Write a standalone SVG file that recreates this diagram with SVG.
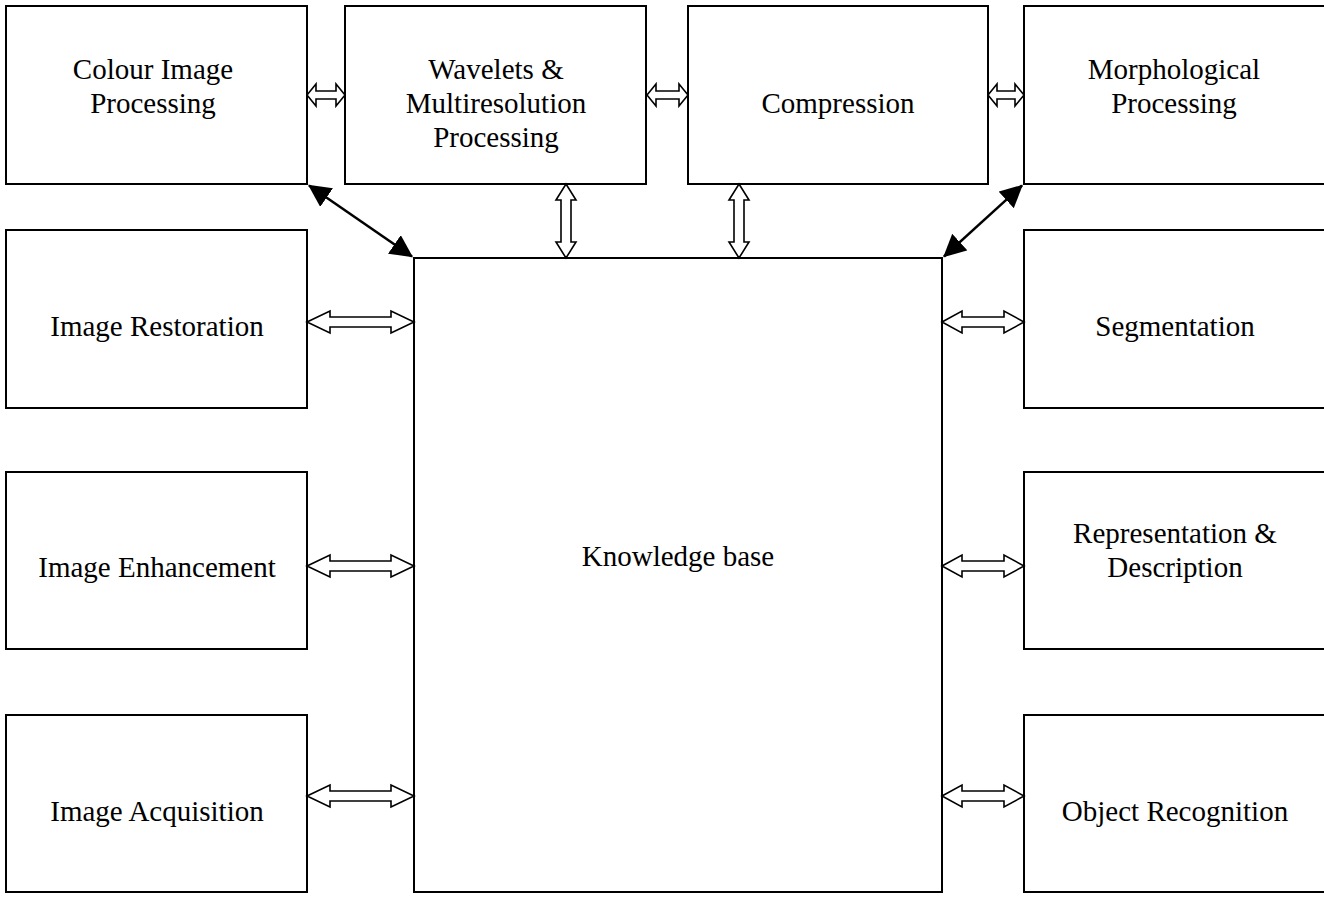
<svg xmlns="http://www.w3.org/2000/svg" width="1324" height="898" viewBox="0 0 1324 898">
<style>
.box{fill:#fff;stroke:#000;stroke-width:2}
.t{font-family:"Liberation Serif","Times New Roman",serif;font-size:29px;fill:#000;text-anchor:middle}
.blk{fill:#fff;stroke:#000;stroke-width:1.6;stroke-linejoin:miter}
.diag{stroke:#000;stroke-width:2.5;fill:none;marker-start:url(#ah);marker-end:url(#ah)}
</style>
<defs>
<marker id="ah" viewBox="0 0 10 10" refX="9.5" refY="5" markerWidth="9" markerHeight="9" orient="auto-start-reverse" markerUnits="strokeWidth">
<path d="M0,0 L10,5 L0,10 Z" fill="#000"/>
</marker>
</defs>
<rect width="1324" height="898" fill="#fff"/>
<g id="colour"><rect class="box" x="6" y="6" width="301" height="178"/><text class="t" x="153" y="79">Colour Image</text><text class="t" x="153" y="113">Processing</text></g>
<g id="wavelets"><rect class="box" x="345" y="6" width="301" height="178"/><text class="t" x="496" y="79">Wavelets &amp;</text><text class="t" x="496" y="113">Multiresolution</text><text class="t" x="496" y="147">Processing</text></g>
<g id="compression"><rect class="box" x="688" y="6" width="300" height="178"/><text class="t" x="838" y="113">Compression</text></g>
<g id="morph"><rect class="box" x="1024" y="6" width="302" height="178"/><text class="t" x="1174" y="79">Morphological</text><text class="t" x="1174" y="113">Processing</text></g>
<g id="restoration"><rect class="box" x="6" y="230" width="301" height="178"/><text class="t" x="157" y="336">Image Restoration</text></g>
<g id="enhancement"><rect class="box" x="6" y="472" width="301" height="177"/><text class="t" x="157" y="577">Image Enhancement</text></g>
<g id="acquisition"><rect class="box" x="6" y="715" width="301" height="177"/><text class="t" x="157" y="821">Image Acquisition</text></g>
<g id="segmentation"><rect class="box" x="1024" y="230" width="302" height="178"/><text class="t" x="1175" y="336">Segmentation</text></g>
<g id="representation"><rect class="box" x="1024" y="472" width="302" height="177"/><text class="t" x="1175" y="543">Representation &amp;</text><text class="t" x="1175" y="577">Description</text></g>
<g id="recognition"><rect class="box" x="1024" y="715" width="302" height="177"/><text class="t" x="1175" y="821">Object Recognition</text></g>
<g id="knowledge"><rect class="box" x="414" y="258" width="528" height="634"/><text class="t" x="678" y="566">Knowledge base</text></g>
<g id="connectors">
<polygon class="blk" points="307,95 316,84 316,91 336,91 336,84 345,95 336,106 336,99 316,99 316,106"/>
<polygon class="blk" points="647,95 656,84 656,91 679,91 679,84 688,95 679,106 679,99 656,99 656,106"/>
<polygon class="blk" points="988,95 997,84 997,91 1015,91 1015,84 1024,95 1015,106 1015,99 997,99 997,106"/>
<polygon class="blk" points="566,184 576,200 571,200 571,242 576,242 566,258 556,242 561,242 561,200 556,200"/>
<polygon class="blk" points="739,184 749,200 744,200 744,242 749,242 739,258 729,242 734,242 734,200 729,200"/>
<polygon class="blk" points="307,322 330,311 330,317 391,317 391,311 414,322 391,333 391,327 330,327 330,333"/>
<polygon class="blk" points="307,566 330,555 330,561 391,561 391,555 414,566 391,577 391,571 330,571 330,577"/>
<polygon class="blk" points="307,796 330,785 330,791 391,791 391,785 414,796 391,807 391,801 330,801 330,807"/>
<polygon class="blk" points="942,322 962,311 962,317 1004,317 1004,311 1024,322 1004,333 1004,327 962,327 962,333"/>
<polygon class="blk" points="942,566 962,555 962,561 1004,561 1004,555 1024,566 1004,577 1004,571 962,571 962,577"/>
<polygon class="blk" points="942,796 962,785 962,791 1004,791 1004,785 1024,796 1004,807 1004,801 962,801 962,807"/>
<line class="diag" x1="309" y1="185.5" x2="412" y2="256.5"/>
<line class="diag" x1="1022" y1="185.5" x2="944" y2="256.5"/>
</g>
</svg>
